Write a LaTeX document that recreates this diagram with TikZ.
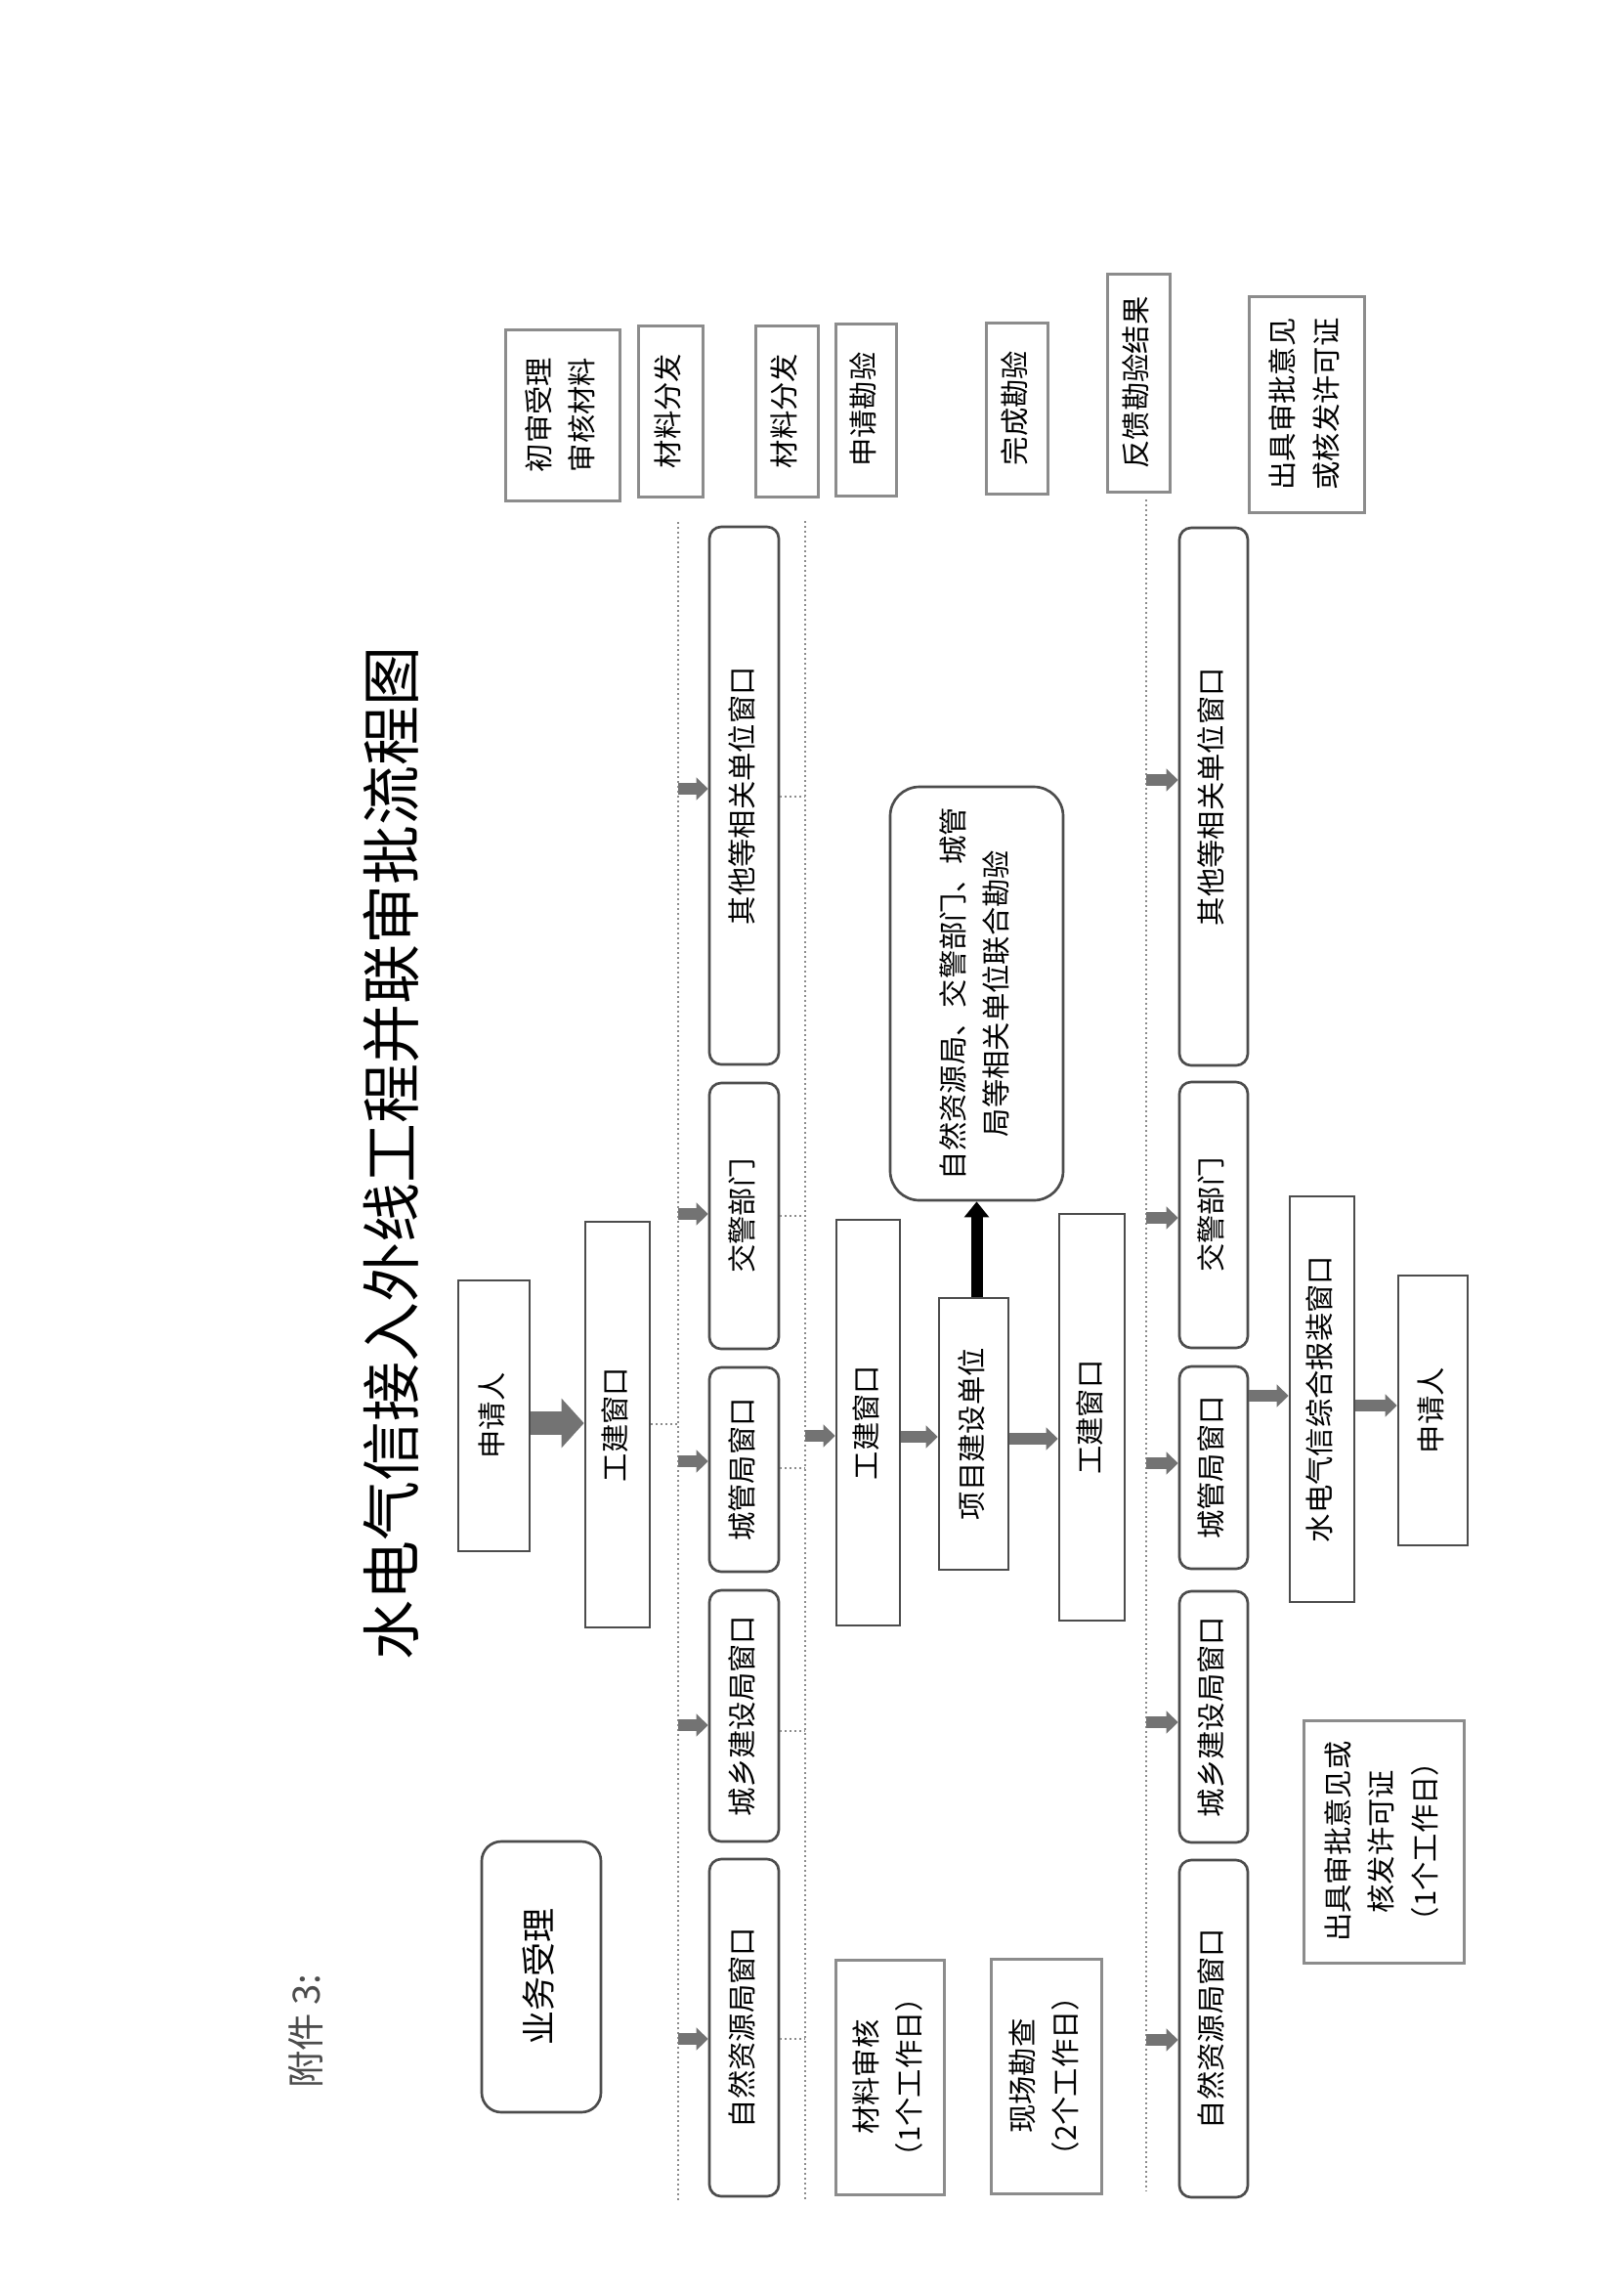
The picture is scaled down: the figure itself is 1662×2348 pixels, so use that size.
\documentclass[tikz,border=0pt]{standalone}
\usepackage{fontspec}
\setmainfont{Noto Sans CJK SC}
\usetikzlibrary{arrows.meta}
\newcommand{\fs}{\fontsize{8.8}{10.4}\selectfont}
\renewcommand{\arraystretch}{1.28}
\newcommand{\mybox}[7]{%
  \node[#2, minimum width={(#5-#3)*0.3pt}, minimum height={(#6-#4)*0.3pt}] (#1) at ({(#3+#5)/2},{(#4+#6)/2}) {\rotatebox{90}{\begin{tabular}{@{}c@{}}#7\end{tabular}}};}
\tikzset{
  sq/.style={draw=black!70, line width=0.8pt, inner sep=0pt, font=\fs},
  rd/.style={sq, rounded corners=3.6pt},
  lbl/.style={draw=black!45, line width=0.9pt, inner sep=0pt, font=\fs},
  busline/.style={draw=black!45, line width=0.5pt, densely dotted},
  thinln/.style={draw=black!45, line width=0.5pt, densely dotted},
  garr/.style={draw=black!55, line width=3.6pt, -{Triangle[length=3.6pt,width=6.8pt]}},
  barr/.style={draw=black, line width=3.6pt, -{Triangle[length=4.8pt,width=7.4pt]}},
  bigarr/.style={draw=black!55, line width=7.2pt, -{Triangle[length=6.9pt,width=14.8pt]}},
}
\begin{document}
\begin{tikzpicture}[x=0.3pt,y=-0.3pt]
\useasboundingbox (0,0) rectangle (1662,2348);
\fill[white] (0,0) rectangle (1662,2348);

% title and attachment mark
\node[font=\fontsize{18.3}{22}\selectfont, rotate=90, inner sep=0pt] (title) at (400,1180) {水电气信接入外线工程并联审批流程图};
\node[font=\fontsize{11.5}{14}\selectfont, rotate=90, text=black!70, inner sep=0pt] (fj) at (313,2078) {附件 3:};

% bus lines
\coordinate (bus1) at (694,534);  \coordinate (bus1b) at (694,2253);
\coordinate (bus2) at (824,533);  \coordinate (bus2b) at (824,2252);
\coordinate (bus3) at (1173,511); \coordinate (bus3b) at (1173,2242);
\draw[busline] (bus1) -- (bus1b);
\draw[busline] (bus2) -- (bus2b);
\draw[busline] (bus3) -- (bus3b);

% top labels
\mybox{l1}{lbl}{517}{337}{634}{512}{初审受理\\审核材料}
\mybox{l2}{lbl}{653}{333}{719}{508}{材料分发}
\mybox{l3}{lbl}{773}{333}{837}{508}{材料分发}
\mybox{l4}{lbl}{855}{331}{917}{507}{申请勘验}
\mybox{l5}{lbl}{1009}{330}{1072}{505}{完成勘验}
\mybox{l6}{lbl}{1133}{280}{1197}{503}{反馈勘验结果}
\mybox{l7}{lbl}{1278}{303}{1396}{524}{出具审批意见\\或核发许可证}

% bottom labels
\mybox{b1}{lbl}{855}{2005}{966}{2245}{材料审核\\（1个工作日）}
\mybox{b2}{lbl}{1014}{2004}{1127}{2244}{现场勘查\\（2个工作日）}
\mybox{b3}{lbl}{1334}{1760}{1498}{2008}{出具审批意见或\\核发许可证\\（1个工作日）}

% business acceptance
\mybox{ywsl}{rd, rounded corners=6pt, font=\fontsize{10.5}{12.6}\selectfont}{493}{1884}{615}{2161}{业务受理}

% row 1
\mybox{oth1}{rd}{726}{539}{797}{1089}{其他等相关单位窗口}
\mybox{jj1}{rd}{726}{1108}{797}{1380}{交警部门}
\mybox{cg1}{rd}{726}{1399}{797}{1608}{城管局窗口}
\mybox{cx1}{rd}{726}{1627}{797}{1884}{城乡建设局窗口}
\mybox{zr1}{rd}{726}{1902}{797}{2247}{自然资源局窗口}

% row 3
\mybox{oth3}{rd}{1207}{540}{1277}{1090}{其他等相关单位窗口}
\mybox{jj3}{rd}{1207}{1107}{1277}{1379}{交警部门}
\mybox{cg3}{rd}{1207}{1398}{1277}{1605}{城管局窗口}
\mybox{cx3}{rd}{1207}{1628}{1277}{1885}{城乡建设局窗口}
\mybox{zr3}{rd}{1207}{1903}{1277}{2248}{自然资源局窗口}

% joint inspection
\mybox{joint}{rd, rounded corners=9pt}{911}{805}{1088}{1228}{自然资源局、交警部门、城管\\局等相关单位联合勘验}

% square boxes
\mybox{sq1}{sq}{469}{1310}{542}{1587}{申请人}
\mybox{gj1}{sq}{599}{1250}{665}{1665}{工建窗口}
\mybox{gj2}{sq}{856}{1248}{921}{1663}{工建窗口}
\mybox{xm}{sq}{961}{1328}{1032}{1606}{项目建设单位}
\mybox{gj3}{sq}{1084}{1242}{1151}{1658}{工建窗口}
\mybox{sd}{sq}{1320}{1224}{1386}{1639}{水电气信综合报装窗口}
\mybox{sq2}{sq}{1431}{1305}{1502}{1581}{申请人}

% connectors: start
\draw[bigarr] (sq1.east |- 0,1456) -- (gj1.west |- 0,1456);
\draw[thinln] (gj1.east |- 0,1457) -- (bus1 |- 0,1457);

% bus 1 to row 1
\draw[garr] (bus1 |- 0,807) -- (oth1.west |- 0,807);
\draw[garr] (bus1 |- 0,1242) -- (jj1.west |- 0,1242);
\draw[garr] (bus1 |- 0,1495) -- (cg1.west |- 0,1495);
\draw[garr] (bus1 |- 0,1765) -- (cx1.west |- 0,1765);
\draw[garr] (bus1 |- 0,2086) -- (zr1.west |- 0,2086);

% row 1 to bus 2
\draw[thinln] (oth1.east |- 0,815) -- (bus2 |- 0,815);
\draw[thinln] (jj1.east |- 0,1244) -- (bus2 |- 0,1244);
\draw[thinln] (cg1.east |- 0,1502) -- (bus2 |- 0,1502);
\draw[thinln] (cx1.east |- 0,1771) -- (bus2 |- 0,1771);
\draw[thinln] (zr1.east |- 0,2086) -- (bus2 |- 0,2086);

% row 2
\draw[garr] (bus2 |- 0,1469) -- (gj2.west |- 0,1469);
\draw[garr] (gj2.east |- 0,1470) -- (xm.west |- 0,1470);
\draw[garr] (xm.east |- 0,1472) -- (gj3.west |- 0,1472);
\draw[barr] (joint.south |- xm.north) -- (joint.south);

% bus 3 to row 3
\draw[garr] (bus3 |- 0,798) -- (oth3.west |- 0,798);
\draw[garr] (bus3 |- 0,1246) -- (jj3.west |- 0,1246);
\draw[garr] (bus3 |- 0,1497) -- (cg3.west |- 0,1497);
\draw[garr] (bus3 |- 0,1762) -- (cx3.west |- 0,1762);
\draw[garr] (bus3 |- 0,2087) -- (zr3.west |- 0,2087);

% final
\draw[garr] (cg3.east |- 0,1428) -- (sd.west |- 0,1428);
\draw[garr] (sd.east |- 0,1438) -- (sq2.west |- 0,1438);
\end{tikzpicture}
\end{document}
